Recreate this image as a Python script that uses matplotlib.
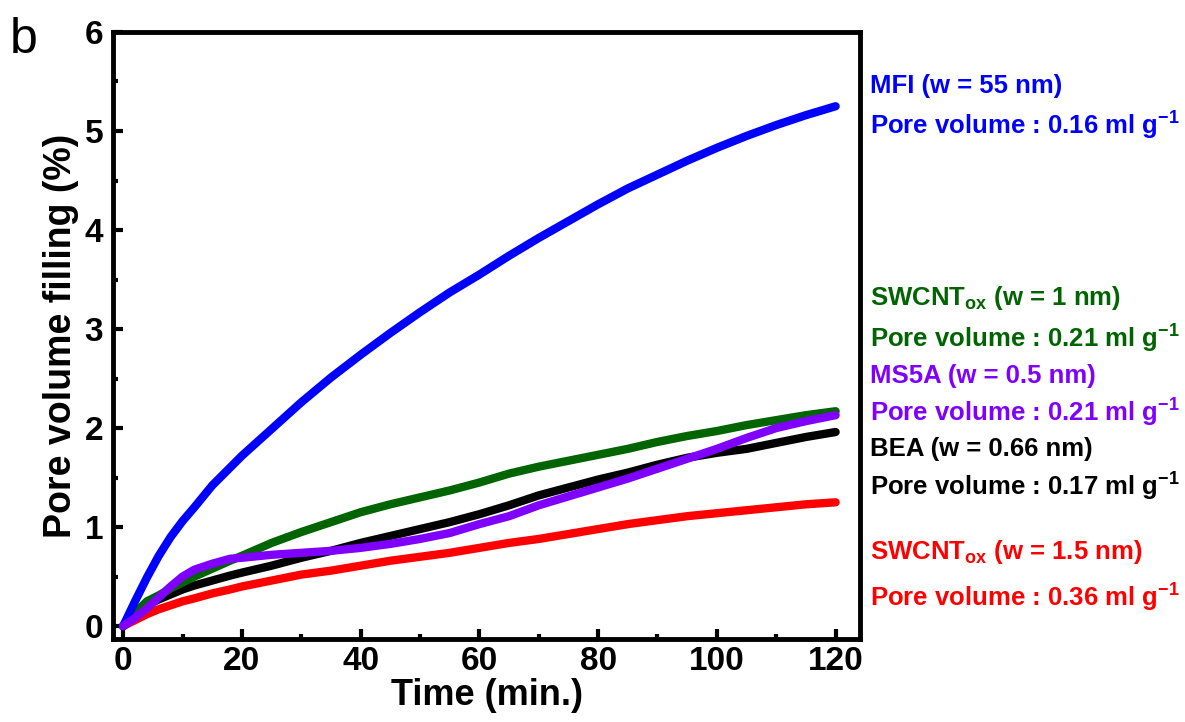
import matplotlib.pyplot as plt

plt.rcParams['font.family'] = ['Liberation Sans', 'DejaVu Sans']
plt.rcParams['mathtext.fontset'] = 'custom'
plt.rcParams['mathtext.rm'] = 'Liberation Sans'
plt.rcParams['mathtext.bf'] = 'Liberation Sans:bold'

# time (min.)
time = [0, 2, 4, 6, 8, 10, 12, 15, 18, 20, 25, 30, 35, 40, 45, 50, 55, 60,
        65, 70, 75, 80, 85, 90, 95, 100, 105, 110, 115, 120]

# pore volume filling (%)
mfi = [0, 0.25, 0.49, 0.71, 0.90, 1.06, 1.20, 1.42, 1.60, 1.72, 1.99, 2.26,
       2.51, 2.74, 2.96, 3.17, 3.37, 3.55, 3.74, 3.92, 4.09, 4.26, 4.42, 4.56,
       4.70, 4.83, 4.95, 5.06, 5.16, 5.25]
swcnt_1 = [0, 0.13, 0.25, 0.31, 0.38, 0.44, 0.50, 0.58, 0.66, 0.71, 0.84, 0.95,
           1.05, 1.15, 1.23, 1.30, 1.37, 1.45, 1.54, 1.61, 1.67, 1.73, 1.79,
           1.86, 1.92, 1.97, 2.03, 2.08, 2.13, 2.17]
ms5a = [0, 0.08, 0.18, 0.29, 0.40, 0.50, 0.57, 0.63, 0.68, 0.69, 0.72, 0.74,
        0.76, 0.79, 0.83, 0.88, 0.94, 1.03, 1.11, 1.22, 1.31, 1.40, 1.49, 1.59,
        1.69, 1.79, 1.90, 2.00, 2.07, 2.13]
bea = [0, 0.11, 0.21, 0.27, 0.32, 0.37, 0.41, 0.46, 0.51, 0.54, 0.61, 0.69,
       0.76, 0.84, 0.91, 0.98, 1.05, 1.13, 1.22, 1.32, 1.40, 1.48, 1.55, 1.63,
       1.70, 1.75, 1.79, 1.85, 1.91, 1.96]
swcnt_15 = [0, 0.06, 0.12, 0.17, 0.21, 0.25, 0.28, 0.33, 0.37, 0.40, 0.46, 0.52,
            0.56, 0.61, 0.66, 0.70, 0.74, 0.79, 0.84, 0.88, 0.93, 0.98, 1.03,
            1.07, 1.11, 1.14, 1.17, 1.20, 1.23, 1.25]

BLUE = '#0000ff'
GREEN = '#006400'
PURPLE = '#8000ff'
BLACK = '#000000'
RED = '#ff0000'

fig = plt.figure(figsize=(11.85, 7.22), dpi=100)
ax = fig.add_axes([0.0954, 0.115, 0.6303, 0.8407])

lw = 6
ax.plot(time, swcnt_15, color=RED, lw=lw, solid_capstyle='round')
ax.plot(time, bea, color=BLACK, lw=lw, solid_capstyle='round')
ax.plot(time, swcnt_1, color=GREEN, lw=lw, solid_capstyle='round')
ax.plot(time, mfi, color=BLUE, lw=lw, solid_capstyle='round')
ax.plot(time, ms5a, color=PURPLE, lw=lw, solid_capstyle='round')

ax.set_xlim(-1.7, 124.1)
ax.set_ylim(-0.13, 6)
ax.set_xticks(range(0, 121, 20))
ax.set_xticks(range(10, 121, 20), minor=True)
ax.set_yticks(range(0, 7))
ax.set_yticks([0.5, 1.5, 2.5, 3.5, 4.5, 5.5], minor=True)

for s in ax.spines.values():
    s.set_linewidth(3.5)
ax.tick_params(which='both', direction='in', width=3, labelsize=24)
ax.tick_params(which='major', length=7, pad=7)
ax.tick_params(which='minor', length=3.5)
ax.tick_params(axis='x', which='major', pad=5)
for lab in ax.get_xticklabels() + ax.get_yticklabels():
    lab.set_fontweight('bold')

ax.set_xlabel('Time (min.)', fontsize=26, fontweight='bold', labelpad=1)
ax.set_ylabel('Pore volume filling (%)', fontsize=27, fontweight='bold', labelpad=4)

fig.text(0.008, 0.945, 'b', fontsize=36, va='center', ha='left')

# sample annotations on the right
x0 = 0.734
labels = [
    (86, r'MFI (w = 55 nm)', BLUE),
    (125, r'Pore volume : 0.16 ml g$^{\mathbf{-1}}$', BLUE),
    (298, r'SWCNT$_{\mathbf{ox}}$ (w = 1 nm)', GREEN),
    (338, r'Pore volume : 0.21 ml g$^{\mathbf{-1}}$', GREEN),
    (376, r'MS5A (w = 0.5 nm)', PURPLE),
    (412, r'Pore volume : 0.21 ml g$^{\mathbf{-1}}$', PURPLE),
    (449, r'BEA (w = 0.66 nm)', BLACK),
    (486, r'Pore volume : 0.17 ml g$^{\mathbf{-1}}$', BLACK),
    (552, r'SWCNT$_{\mathbf{ox}}$ (w = 1.5 nm)', RED),
    (597, r'Pore volume : 0.36 ml g$^{\mathbf{-1}}$', RED),
]
for ypix, txt, col in labels:
    fig.text(x0, 1 - ypix / 722, txt, color=col, fontsize=18.5,
             fontweight='bold', va='center', ha='left')

fig.savefig('out.png', dpi=100)
